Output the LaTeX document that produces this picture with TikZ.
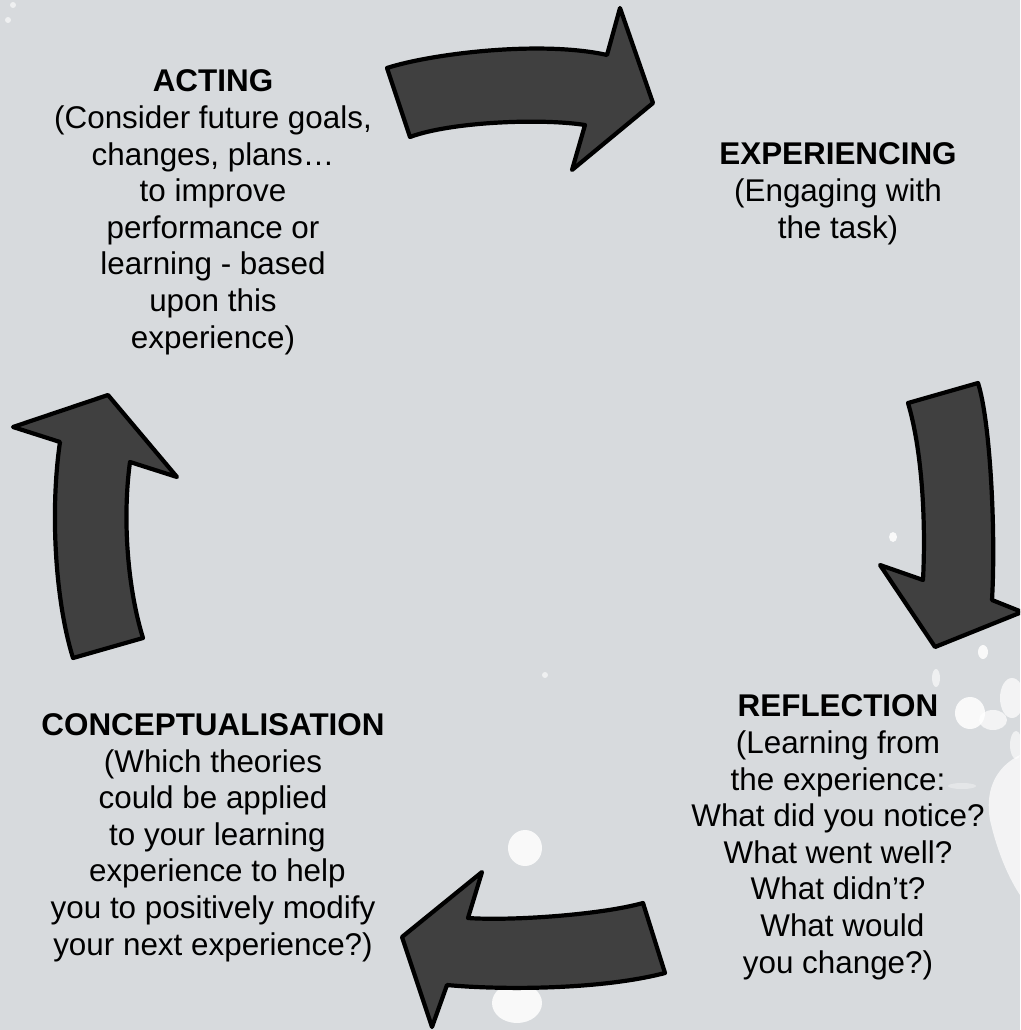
\documentclass[tikz,border=0pt]{standalone}
\usepackage{fontspec}
\setmainfont{Liberation Sans}
\usetikzlibrary{positioning}
\definecolor{bggrey}{RGB}{215,218,221}
\definecolor{arrowgrey}{RGB}{64,64,64}

\begin{document}
\begin{tikzpicture}[x=1pt,y=-1pt]
  \tikzstyle{every node}=[font=\fontsize{31.4}{36.6}\selectfont, align=center, inner sep=0pt]
  \tikzstyle{cyclearrow}=[fill=arrowgrey, draw=black, line width=4.2pt, line join=round]
  \tikzstyle{splash}=[fill=white, opacity=0.85]
  \fill[bggrey] (0,0) rectangle (1020,1030);
  \clip (0,0) rectangle (1020,1030);
  % paint splashes
  \fill[splash] (893,537) ellipse (4 and 5);
  \fill[splash] (525,848) ellipse (17 and 18);
  \fill[splash] (517,1003) ellipse (25 and 20);
  \fill[splash, opacity=0.6] (545,675) circle (3);
  \fill[splash, opacity=0.6] (13,5) circle (3);
  \fill[splash, opacity=0.6] (8,20) circle (3);
  \fill[splash] (983,652) ellipse (5 and 7);
  \fill[splash, opacity=0.6] (936,678) ellipse (4 and 9);
  \fill[splash] (970,713) ellipse (15 and 16);
  \fill[splash, opacity=0.7] (993,720) ellipse (14 and 10);
  \fill[splash, opacity=0.7] (1012,698) ellipse (12 and 20);
  \fill[splash, opacity=0.6] (1016,745) ellipse (6 and 14);
  \fill[splash, opacity=0.35] (962,786) ellipse (14 and 3);
  \fill[splash, opacity=0.7] (1020,755) .. controls (1000,765) and (984,785) .. (990,820) .. controls (998,855) and (1010,880) .. (1020,895) -- cycle;
  % the four arrows of the cycle
  \draw[cyclearrow] (387,68) .. controls (430,54) and (540,40) .. (607,55) -- (620,8) -- (653,103) -- (572,170) -- (585,125) .. controls (540,118) and (450,122) .. (410,137) -- cycle;
  \draw[cyclearrow] (908,403) -- (978,383) .. controls (990,420) and (996,530) .. (992,600) -- (1022,612) -- (935,647) -- (880,565) -- (923,580) .. controls (926,520) and (922,450) .. (908,403) -- cycle;
  \draw[cyclearrow] (643,903) .. controls (600,915) and (510,921) .. (468,918) -- (482,872) -- (402,937) -- (432,1027) -- (447,985) .. controls (500,990) and (600,990) .. (665,973) -- cycle;
  \draw[cyclearrow] (60,442) -- (13,427) -- (108,395) -- (177,477) -- (130,462) .. controls (122,520) and (128,590) .. (143,638) -- (73,658) .. controls (55,600) and (50,510) .. (60,442) -- cycle;
  % stage texts (base = baseline of the last line)
  \draw (213,348) node (acting) [anchor=base] {\textbf{ACTING}\\(Consider future goals,\\changes, plans…\\to improve\\performance or\\learning - based\\upon this\\experience)};
  \draw (838,238) node (experiencing) [anchor=base] {\textbf{EXPERIENCING}\\(Engaging with\\the task)};
  \draw (838,973) node (reflection) [anchor=base] {\textbf{REFLECTION}\\(Learning from\\the experience:\\What did you notice?\\What went well?\\What didn’t?\\\hspace*{.28em}What would\\you change?)};
  \draw (213,955) node (conceptualisation) [anchor=base] {\textbf{CONCEPTUALISATION}\\(Which theories\\could be applied\\\hspace*{.28em}to your learning\\\hspace*{.28em}experience to help\\you to positively modify\\your next experience?)};
\end{tikzpicture}
\end{document}
